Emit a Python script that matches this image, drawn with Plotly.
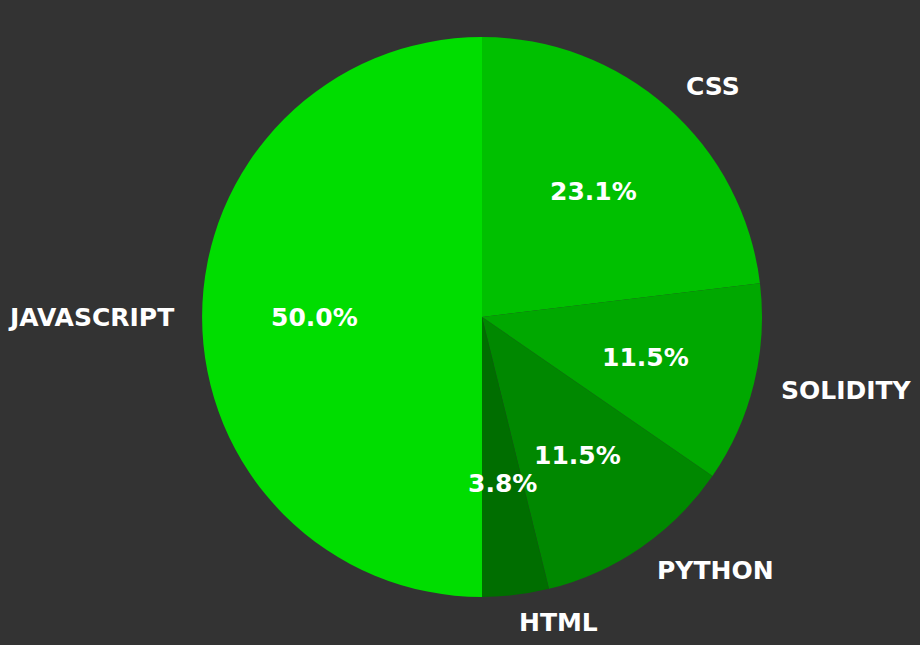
import math
import plotly.graph_objects as go

labels = ["CSS", "SOLIDITY", "PYTHON", "HTML", "JAVASCRIPT"]
counts = [6, 3, 3, 1, 13]
colors = ["#00c000", "#00a800", "#008800", "#006e00", "#00dd00"]

W, H = 920, 645
cx, cy, R = 482, 317, 280

fig = go.Figure(go.Pie(
    labels=labels, values=counts, sort=False, direction="clockwise", rotation=0,
    marker=dict(colors=colors, line=dict(width=0)),
    textinfo="none", hoverinfo="skip", showlegend=False,
    domain=dict(x=[(cx - R) / W, (cx + R) / W], y=[1 - (cy + R) / H, 1 - (cy - R) / H]),
))

total = sum(counts)
font_main = dict(family="DejaVu Sans", size=25, color="white", weight="bold")
start = 90.0
anns = []
for lab, v in zip(labels, counts):
    span = 360.0 * v / total
    mid = math.radians(start - span / 2)
    start -= span
    c, s = math.cos(mid), math.sin(mid)
    # percentage at 0.6 radius
    px, py = cx + 0.6 * R * c, cy - 0.6 * R * s
    anns.append(dict(x=px / W, y=1 - py / H, xref="paper", yref="paper",
                     text=f"{100 * v / total:.1f}%", showarrow=False,
                     borderpad=0, borderwidth=0,
                     xanchor="center", yanchor="middle", font=font_main))
    # label at 1.1 radius
    lx, ly = cx + 1.1 * R * c, cy - 1.1 * R * s
    anns.append(dict(x=lx / W, y=1 - ly / H, xref="paper", yref="paper",
                     text=lab, showarrow=False, borderpad=0, borderwidth=0,
                     xanchor="left" if c > 0 else "right", yanchor="middle", font=font_main))

fig.update_layout(
    width=W, height=H, margin=dict(l=0, r=0, t=0, b=0),
    paper_bgcolor="#333333", plot_bgcolor="#333333",
    annotations=anns,
)
fig.write_html("out.html")
